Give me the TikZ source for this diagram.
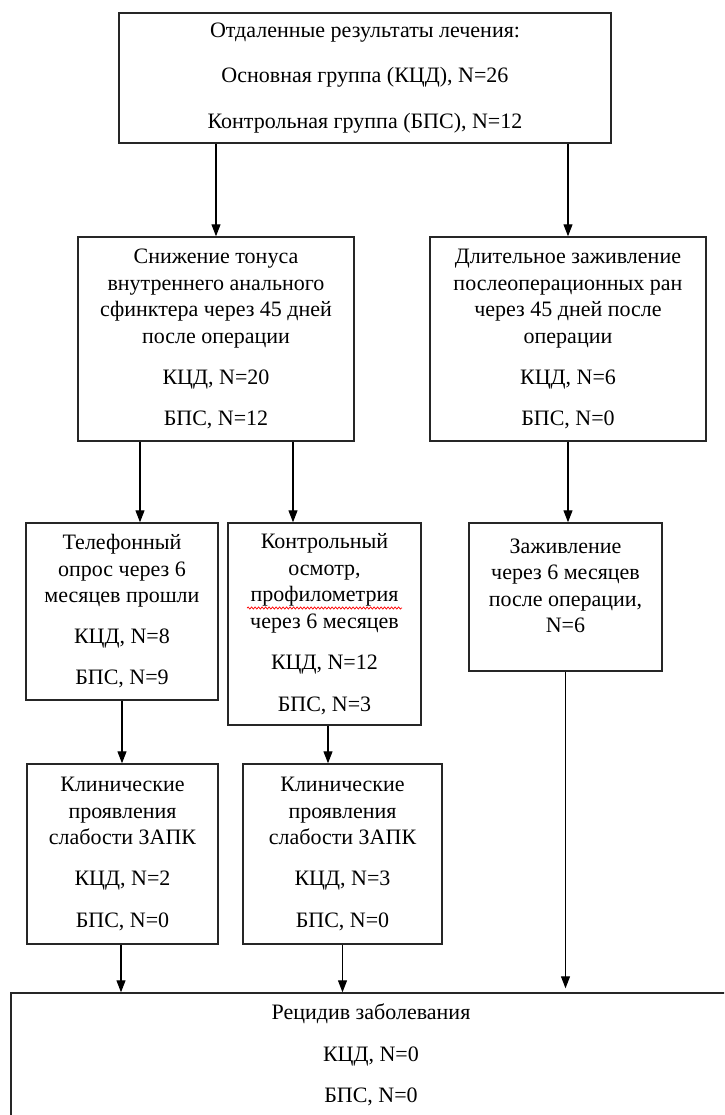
\documentclass[tikz,border=0pt]{standalone}
\usepackage{fontspec}
\setmainfont{Liberation Serif}
\usetikzlibrary{arrows.meta}
\usetikzlibrary{positioning}
\usetikzlibrary{decorations.pathmorphing}

\begin{document}
\begin{tikzpicture}[x=1pt, y=-1pt,
    box/.style={draw=black!85, line width=1.4pt, rectangle, align=center,
      inner sep=0pt, font=\fontsize{22}{26.5}\selectfont},
    arr/.style={-{Triangle[length=12pt,width=9pt]}, line width=1.1pt},
    spell/.style={draw=red, line width=0.7pt,
      decorate, decoration={snake, amplitude=1.1pt, segment length=3.5pt}}]
  \useasboundingbox (0,0) rectangle (724,1115);
  \clip (0,0) rectangle (724,1115);

      % boxes
      \node[box, minimum width=492pt, minimum height=130pt] (itog) at (365,78)
        {Отдаленные результаты лечения:\\[19pt]
         Основная группа (КЦД), N=26\\[19pt]
         Контрольная группа (БПС), N=12};

      \node[box, minimum width=276pt, minimum height=204pt] (tonus) at (216,339)
        {Снижение тонуса\\ внутреннего анального\\ сфинктера через 45 дней\\ после операции\\[15pt]
         КЦД, N=20\\[14pt] БПС, N=12};
      \node[box, minimum width=276pt, minimum height=204pt] (zazhA) at (568,339)
        {Длительное заживление\\ послеоперационных ран\\ через 45 дней после\\ операции\\[15pt]
         КЦД, N=6\\[14pt] БПС, N=0};

      \node[box, minimum width=192pt, minimum height=177pt] (opros) at (122,611.5)
        {Телефонный\\ опрос через 6\\ месяцев прошли\\[14pt]
         КЦД, N=8\\[15pt] БПС, N=9};
      \node[box, minimum width=193pt, minimum height=202pt] (osmotr) at (324.5,624)
        {Контрольный\\ осмотр,\\ профилометрия\\ через 6 месяцев\\[15pt]
         КЦД, N=12\\[15pt] БПС, N=3};
      \node[box, minimum width=193pt, minimum height=148pt] (zazhB) at (565.5,597)
        {Заживление\\ через 6 месяцев\\ после операции,\\ N=6\\[-4pt] \mbox{}};

      \node[box, minimum width=191pt, minimum height=180pt] (klinA) at (122.5,854)
        {Клинические\\ проявления\\ слабости ЗАПК\\[14pt]
         КЦД, N=2\\[16pt] БПС, N=0};
      \node[box, minimum width=199pt, minimum height=180pt] (klinB) at (342.5,854)
        {Клинические\\ проявления\\ слабости ЗАПК\\[14pt]
         КЦД, N=3\\[16pt] БПС, N=0};

      \node[box, minimum width=720pt, minimum height=124pt] (recid) at (371,1055)
        {Рецидив заболевания\\[15pt] КЦД, N=0\\[15pt] БПС, N=0};

      % spell-check mark
      \draw[spell] (247,608) -- (402,608);

      % arrows
      \coordinate (xa) at (140,0);
      \coordinate (xb) at (293,0);
      \coordinate (xc) at (328,0);
      \coordinate (xd) at (121,0);

      \draw[arr] (itog.south -| tonus.north) -- (tonus.north);
      \draw[arr] (itog.south -| zazhA.north) -- (zazhA.north);
      \draw[arr] (tonus.south -| xa) -- (opros.north -| xa);
      \draw[arr] (tonus.south -| xb) -- (osmotr.north -| xb);
      \draw[arr] (zazhA.south) -- (zazhA.south |- zazhB.north);
      \draw[arr] (opros.south) -- (opros.south |- klinA.north);
      \draw[arr] (osmotr.south -| xc) -- (klinB.north -| xc);
      \draw[arr] (klinA.south -| xd) -- (recid.north -| xd);
      \draw[arr] (klinB.south) -- (klinB.south |- recid.north);
      \draw[arr] (zazhB.south) -- ([yshift=4pt]zazhB.south |- recid.north);
\end{tikzpicture}
\end{document}
